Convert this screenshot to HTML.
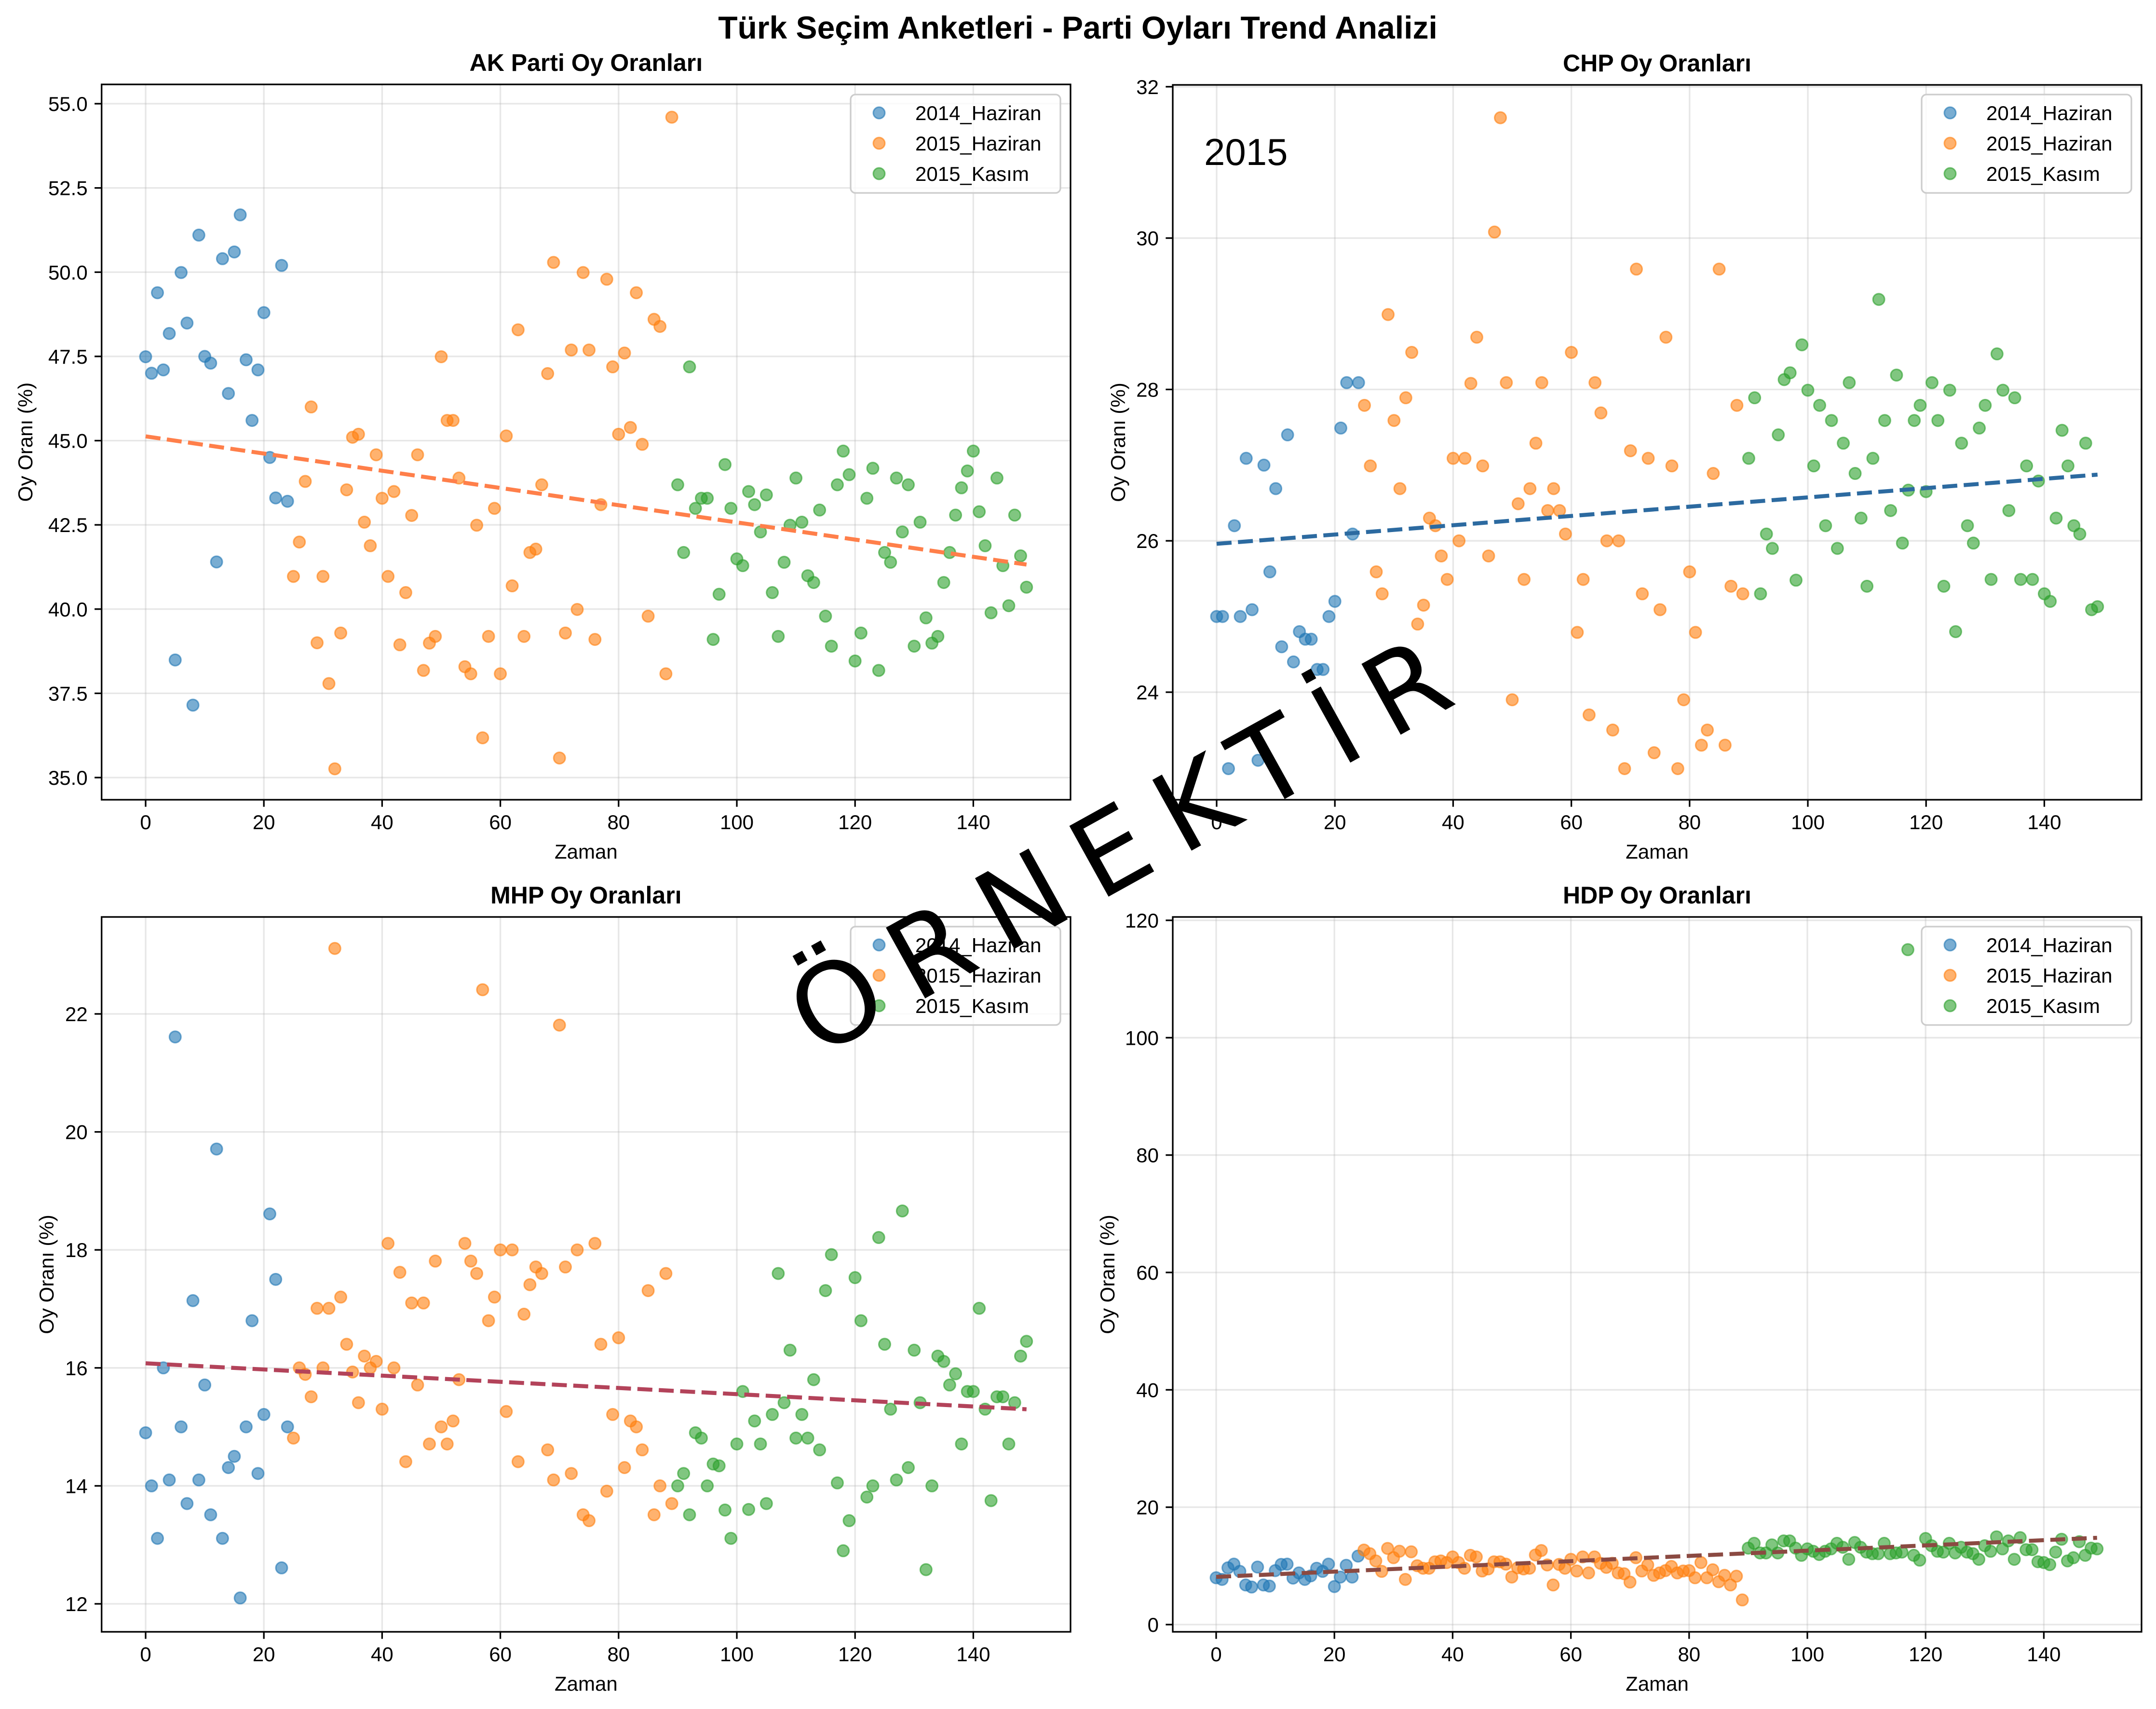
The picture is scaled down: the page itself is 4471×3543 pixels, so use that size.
<!DOCTYPE html>
<html><head><meta charset="utf-8"><title>Türk Seçim Anketleri</title>
<style>html,body{margin:0;padding:0;background:#fff;}svg{display:block;font-family:"Liberation Sans","DejaVu Sans",sans-serif;}</style>
</head><body>
<svg id="fig" width="4471" height="3543" viewBox="0 0 4471 3543" xmlns="http://www.w3.org/2000/svg">
<rect width="4471" height="3543" fill="#fff"/>
<text x="2235" y="80" text-anchor="middle" font-size="66" font-weight="bold">Türk Seçim Anketleri - Parti Oyları Trend Analizi</text>
</svg>
<script>
// ---- data ----
const groupNames = ["2014_Haziran","2015_Haziran","2015_Kasım"];
const groupStart = [0,25,90];
const akH14 = [47.49,47.0,49.39,47.1,48.18,38.49,49.99,48.49,37.15,51.1,47.5,47.3,41.4,50.4,46.4,50.6,51.7,47.4,45.6,47.1,48.8,44.5,43.3,50.2,43.2];
const akH15 = [40.97,41.99,43.79,46.0,39.0,40.97,37.79,35.26,39.29,43.54,45.1,45.19,42.58,41.88,44.58,43.29,40.97,43.49,38.94,40.49,42.78,44.58,38.18,38.99,39.19,47.49,45.6,45.6,43.89,38.29,38.08,42.49,36.18,39.19,42.99,38.08,45.14,40.69,48.29,39.19,41.68,41.78,43.69,46.99,50.29,35.58,39.29,47.69,39.99,49.99,47.69,39.1,43.1,49.79,47.19,45.19,47.6,45.39,49.39,44.89,39.79,48.6,48.39,38.08,54.6];
const akK15 = [43.69,41.68,47.19,42.99,43.29,43.29,39.1,40.44,44.29,42.99,41.49,41.29,43.49,43.1,42.29,43.39,40.49,39.19,41.39,42.49,43.89,42.58,40.99,40.79,42.94,39.79,38.9,43.69,44.69,43.99,38.46,39.29,43.29,44.18,38.18,41.68,41.39,43.89,42.29,43.69,38.9,42.58,39.74,38.99,39.19,40.79,41.68,42.79,43.6,44.1,44.69,42.89,41.88,39.89,43.89,41.29,40.1,42.79,41.58,40.65];
const chpH14 = [25.0,25.0,22.99,26.2,25.0,27.09,25.09,23.1,27.0,25.59,26.69,24.6,27.4,24.4,24.8,24.7,24.7,24.3,24.3,25.0,25.2,27.49,28.09,26.09,28.09];
const chpH15 = [27.79,26.99,25.59,25.3,28.99,27.59,26.69,27.89,28.49,24.9,25.15,26.3,26.2,25.8,25.49,27.09,26.0,27.09,28.08,28.69,26.99,25.8,30.08,31.59,28.09,23.9,26.49,25.49,26.69,27.29,28.09,26.4,26.69,26.4,26.09,28.49,24.79,25.49,23.7,28.09,27.69,26.0,23.5,26.0,22.99,27.19,29.59,25.3,27.09,23.2,25.09,28.69,26.99,22.99,23.9,25.59,24.79,23.3,23.5,26.89,29.59,23.3,25.4,27.79,25.3];
const chpK15 = [27.09,27.89,25.3,26.09,25.9,27.4,28.13,28.22,25.48,28.59,27.99,26.99,27.79,26.2,27.59,25.9,27.29,28.09,26.89,26.3,25.4,27.09,29.19,27.59,26.4,28.19,25.97,26.67,27.59,27.79,26.65,28.09,27.59,25.4,27.99,24.8,27.29,26.2,25.97,27.49,27.79,25.49,28.47,27.99,26.4,27.89,25.49,26.99,25.49,26.79,25.3,25.2,26.3,27.46,26.99,26.2,26.09,27.29,25.09,25.13];
const mhpH14 = [14.9,14.0,13.11,16.0,14.1,21.61,15.0,13.7,17.14,14.1,15.71,13.51,19.71,13.11,14.31,14.5,12.1,15.0,16.8,14.21,15.21,18.61,17.5,12.61,15.0];
const mhpH15 = [14.81,16.0,15.89,15.51,17.01,16.0,17.01,23.11,17.2,16.4,15.93,15.41,16.2,16.0,16.11,15.3,18.11,16.0,17.62,14.41,17.1,15.71,17.1,14.71,17.81,15.0,14.71,15.1,15.8,18.11,17.81,17.6,22.41,16.8,17.2,18.0,15.26,18.0,14.41,16.91,17.41,17.71,17.6,14.61,14.1,21.81,17.71,14.21,18.0,13.51,13.41,18.11,16.4,13.91,15.21,16.51,14.31,15.1,15.0,14.61,17.31,13.51,14.0,17.6,13.7];
const mhpK15 = [14.0,14.21,13.51,14.9,14.81,14.0,14.37,14.34,13.59,13.11,14.71,15.6,13.6,15.1,14.71,13.7,15.21,17.6,15.41,16.3,14.81,15.21,14.81,15.8,14.61,17.31,17.92,14.05,12.9,13.41,17.53,16.8,13.81,14.0,18.21,16.4,15.3,14.1,18.66,14.31,16.3,15.41,12.58,14.0,16.2,16.11,15.71,15.9,14.71,15.6,15.6,17.01,15.3,13.75,15.51,15.51,14.71,15.41,16.2,16.45];
const hdpH14 = [7.98,7.7,9.67,10.3,9.07,6.75,6.4,9.8,6.75,6.56,9.2,10.25,10.3,7.92,8.8,7.7,8.3,9.6,9.07,10.3,6.48,8.1,10.1,8.1,11.67];
const hdpH15 = [12.7,12.08,10.85,9.07,12.98,11.4,12.5,7.7,12.4,10.03,9.6,9.6,10.7,10.85,10.57,11.53,10.57,9.6,11.8,11.53,9.13,9.48,10.7,10.7,10.3,8.1,9.67,9.48,9.6,11.86,12.62,10.16,6.75,10.25,9.6,11.12,9.13,11.53,8.8,11.53,10.44,9.75,10.44,8.8,8.66,7.24,11.4,9.13,10.16,8.39,8.8,9.2,9.9,8.8,9.13,9.2,7.98,10.57,7.98,9.34,7.3,8.39,6.75,8.25,4.2];
const hdpK15 = [13.03,13.85,12.21,12.21,13.58,12.21,14.26,14.26,13.03,11.8,12.9,12.49,11.94,12.49,12.9,13.85,13.17,11.12,13.99,13.17,12.35,12.08,12.08,13.85,12.08,12.21,12.35,115.0,11.8,10.98,14.67,13.44,12.49,12.35,13.85,12.21,13.17,12.35,12.08,11.12,13.44,12.49,14.95,12.9,14.26,11.12,14.81,12.76,12.76,10.71,10.57,10.22,12.35,14.54,10.85,11.39,14.13,11.8,13.03,12.9];
const xTicks = [0,20,40,60,80,100,120,140];
const akTicks = [35,37.5,40,42.5,45,47.5,50,52.5,55];
const chpTicks = [24,26,28,30,32];
const mhpTicks = [12,14,16,18,20,22];
const hdpTicks = [0,20,40,60,80,100,120];

// ---- layout (pixels) ----
const NS = "http://www.w3.org/2000/svg";
const svg = document.getElementById("fig");
const groupColors = ["#1f77b4","#ff7f0e","#2ca02c"];
function mk(tag, attrs, parent){const e=document.createElementNS(NS,tag);for(const k in attrs)e.setAttribute(k,attrs[k]);(parent||svg).appendChild(e);return e;}

const panels = [
 {key:"ak", title:"AK Parti Oy Oranları", groups:[akH14,akH15,akK15], ticks:akTicks, fmt:v=>v.toFixed(1),
  L:210.7,R:2220,T:175,B:1658, x0:302, yv0:35, yp0:1612, ypu:69.85, lineColor:"#ff7f4a", ylabX:52, legY:196},
 {key:"chp", title:"CHP Oy Oranları", groups:[chpH14,chpH15,chpK15], ticks:chpTicks, fmt:v=>String(v),
  L:2432,R:4441,T:176,B:1658, x0:2523, yv0:24, yp0:1435, ypu:156.9, lineColor:"#2c6aa0", ylabX:2318, legY:196},
 {key:"mhp", title:"MHP Oy Oranları", groups:[mhpH14,mhpH15,mhpK15], ticks:mhpTicks, fmt:v=>String(v),
  L:210.7,R:2220,T:1901,B:3383, x0:302, yv0:22, yp0:2102, ypu:122.3, lineColor:"#b3435a", ylabX:96, legY:1921},
 {key:"hdp", title:"HDP Oy Oranları", groups:[hdpH14,hdpH15,hdpK15], ticks:hdpTicks, fmt:v=>String(v),
  L:2432,R:4441,T:1901,B:3383, x0:2522, yv0:0, yp0:3368, ypu:12.167, lineColor:"#8b4a42", ylabX:2296, legY:1921}
];
const XPU = 12.26;

panels.forEach(p=>{
  const g = mk("g",{});
  
  
  const xs = v => p.x0 + v*XPU;
  const ys = v => p.yp0 - (v - p.yv0)*p.ypu;
  xTicks.forEach(t=>{
    const l = mk("line",{x1:xs(t),x2:xs(t),y1:p.T,y2:p.B,stroke:"#b0b0b0","stroke-opacity":0.3,"stroke-width":3.3},g);
    
    
  });
  p.ticks.forEach(t=>{
    const l = mk("line",{x1:p.L,x2:p.R,y1:ys(t),y2:ys(t),stroke:"#b0b0b0","stroke-opacity":0.3,"stroke-width":3.3},g);
    
    
  });
  const allX=[], allY=[];
  p.groups.forEach((arr,gi)=>{
    const sg = mk("g",{},g);
    
    
    arr.forEach((v,j)=>{
      const xv = groupStart[gi]+j;
      allX.push(xv); allY.push(v);
      const c = mk("circle",{cx:xs(xv),cy:ys(v),r:12,fill:groupColors[gi],"fill-opacity":0.6,stroke:groupColors[gi],"stroke-opacity":0.6,"stroke-width":3},sg);
      
      
    });
  });
  const n=allX.length; let sx=0,sy=0,sxx=0,sxy=0;
  for(let i=0;i<n;i++){sx+=allX[i];sy+=allY[i];sxx+=allX[i]*allX[i];sxy+=allX[i]*allY[i];}
  const m=(n*sxy-sx*sy)/(n*sxx-sx*sx), b=(sy-m*sx)/n;
  const xa=0, xb=149;
  const tl = mk("line",{x1:xs(xa),y1:ys(m*xa+b),x2:xs(xb),y2:ys(m*xb+b),stroke:p.lineColor,"stroke-width":8.3,"stroke-dasharray":"31 13.4"},g);
  
  
  const sp = mk("rect",{x:p.L,y:p.T,width:p.R-p.L,height:p.B-p.T,fill:"none",stroke:"#000","stroke-width":3.3},g);
  
  
  xTicks.forEach(t=>{
    const tk = mk("line",{x1:xs(t),x2:xs(t),y1:p.B,y2:p.B+14.6,stroke:"#000","stroke-width":3.3},g);
    
    
    const tx = mk("text",{x:xs(t),y:p.B+61,"text-anchor":"middle","font-size":42},g);
    tx.textContent = String(t);
    
    
  });
  p.ticks.forEach(t=>{
    const tk = mk("line",{x1:p.L-14.6,x2:p.L,y1:ys(t),y2:ys(t),stroke:"#000","stroke-width":3.3},g);
    
    
    const tx = mk("text",{x:p.L-29,y:ys(t)+15,"text-anchor":"end","font-size":42},g);
    tx.textContent = p.fmt(t);
    
    
  });
  const xl = mk("text",{x:(p.L+p.R)/2,y:p.B+122,"text-anchor":"middle","font-size":42},g);
  xl.textContent = "Zaman";
  
  
  const yc=(p.T+p.B)/2;
  const yl = mk("text",{x:p.ylabX,y:yc,"text-anchor":"middle","font-size":42,transform:`rotate(-90 ${p.ylabX} ${yc})`,dy:"15"},g);
  yl.textContent = "Oy Oranı (%)";
  
  
  const tt = mk("text",{x:(p.L+p.R)/2,y:p.T-28,"text-anchor":"middle","font-size":50,"font-weight":"bold"},g);
  tt.textContent = p.title;
  
  
  const lg = mk("g",{},g);
  
  
  const lx = p.R-21-435;
  mk("rect",{x:lx,y:p.legY,width:435,height:204,rx:10,fill:"#fff","fill-opacity":0.8,stroke:"#cccccc","stroke-width":3.3},lg);
  groupNames.forEach((nm,gi)=>{
    const ey = p.legY + 38 + gi*63;
    const le = mk("g",{},lg);
    
    
    mk("circle",{cx:lx+59,cy:ey,r:12,fill:groupColors[gi],"fill-opacity":0.6,stroke:groupColors[gi],"stroke-opacity":0.6,"stroke-width":3},le);
    const t = mk("text",{x:lx+134,y:ey+15,"font-size":42},le);
    t.textContent = nm;
  });
});

const ann = mk("text",{x:2497,y:342,"font-size":78});
ann.textContent = "2015";



const wm = mk("text",{x:0,y:0,"text-anchor":"middle","font-size":230,"font-family":"DejaVu Sans, sans-serif",fill:"#000",textLength:1520,lengthAdjust:"spacing",transform:"translate(2360 1825) rotate(-29)"});
wm.textContent = "ÖRNEKTİR";


</script>
</body></html>
